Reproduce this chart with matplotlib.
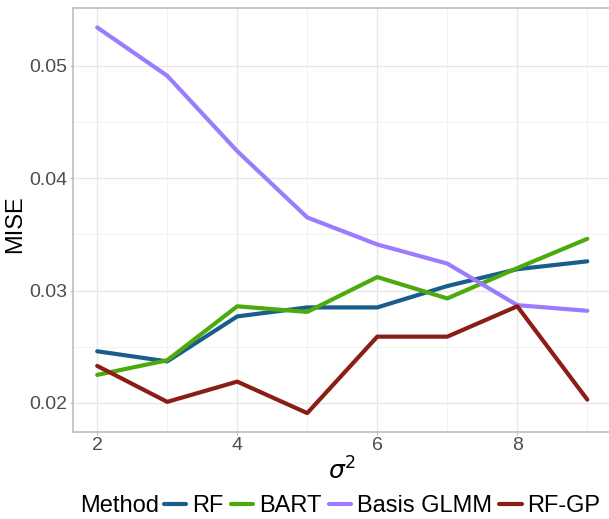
import matplotlib.pyplot as plt
import numpy as np

plt.rcParams['font.family'] = ['Liberation Sans', 'DejaVu Sans']

sigma2 = [2, 3, 4, 5, 6, 7, 8, 9]
rf = [0.0246, 0.0237, 0.0277, 0.0285, 0.0285, 0.0304, 0.0319, 0.0326]
bart = [0.0225, 0.0238, 0.0286, 0.0281, 0.0312, 0.0293, 0.0320, 0.0346]
basis_glmm = [0.0534, 0.0491, 0.0424, 0.0365, 0.0341, 0.0324, 0.0287, 0.0282]
rf_gp = [0.0233, 0.0201, 0.0219, 0.0191, 0.0259, 0.0259, 0.0286, 0.0203]

methods = ["RF", "BART", "Basis GLMM", "RF-GP"]
colors = ["#1a5d8d", "#4caa0c", "#9b7cff", "#8b1e14"]

fig = plt.figure(figsize=[6.09, 5.19], dpi=100)
ax = fig.add_axes([72.7 / 609, 87 / 519, (611.8 - 72.7) / 609, 424 / 519])

for ys, name, c in zip([rf, bart, basis_glmm, rf_gp], methods, colors):
	ax.plot(sigma2, ys, color=c, lw=3.0, label=name, solid_capstyle="round")

ax.set_xlim(1.65, 9.35)
ax.set_ylim(0.01742, 0.05513)
ax.set_xticks([2, 4, 6, 8])
ax.set_yticks([0.02, 0.03, 0.04, 0.05])
ax.set_yticklabels(["0.02", "0.03", "0.04", "0.05"])
ax.set_xticks([3, 5, 7, 9], minor=True)
ax.set_yticks([0.025, 0.035, 0.045], minor=True)
ax.grid(which="major", color="#e6e6e6", lw=0.9)
ax.grid(which="minor", color="#f0f0f0", lw=0.6)
ax.set_axisbelow(True)
for s in ax.spines.values():
	s.set_color("#bdbdbd")
	s.set_linewidth(1.2)
ax.tick_params(which="major", length=2.2, color="#bdbdbd", labelsize=14, labelcolor="#4d4d4d", pad=1.5)
ax.tick_params(which="minor", length=0)

ax.set_ylabel("MISE", fontsize=17)
ax.yaxis.set_label_coords(-0.086, 0.49)
ax.set_xlabel(r"$\sigma^2$", fontsize=18, labelpad=2)

fig.text(80 / 609, 0.025, "Method", fontsize=17, va="center", ha="left")
fig.legend(*ax.get_legend_handles_labels(), loc="center left", bbox_to_anchor=(164 / 609, 0.025),
	ncol=4, frameon=False, fontsize=17, handlelength=0.95, handletextpad=0.25,
	columnspacing=0.3, borderpad=0, borderaxespad=0)

fig.savefig("out.png", dpi=100)
